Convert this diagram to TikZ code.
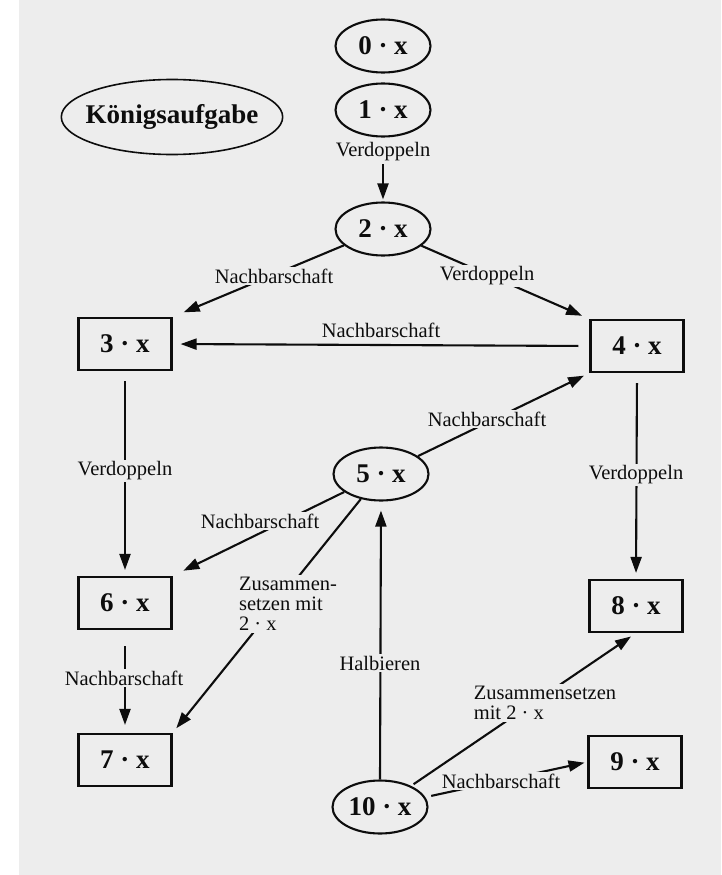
\documentclass[tikz,border=0pt]{standalone}
\usepackage{fontspec}
\setmainfont{Liberation Serif}
\usetikzlibrary{shapes.geometric,arrows.meta}
\definecolor{paper}{gray}{0.93}
\definecolor{ink}{gray}{0.05}
\begin{document}
\begin{tikzpicture}[x=1pt, y=-1pt, line width=2.1pt, draw=ink, text=ink,
  oval/.style={ellipse, draw, minimum width=95pt, minimum height=53pt, inner sep=0pt,
    font=\fontsize{27}{30}\selectfont\bfseries},
  boxnode/.style={rectangle, draw, minimum width=93pt, minimum height=52pt, inner sep=0pt,
    font=\fontsize{27}{30}\selectfont\bfseries},
  lbl/.style={font=\fontsize{20.5}{20}\selectfont, inner sep=2pt},
  cover/.style={lbl, fill=paper},
  arr/.style={-{Triangle[length=16pt,width=11pt]}}]
\useasboundingbox (0,0) rectangle (721,875);
% page
\fill[white] (0,0) rectangle (721,875);
\fill[paper] (19,0) rectangle (721,875);

% title
\node[oval, minimum width=221pt, minimum height=75pt, inner xsep=-8pt, line width=1.6pt] (koenig) at (172,117) {Königsaufgabe};

% multiples
\node[oval] (n0) at (383,46) {0 · x};
\node[oval] (n1) at (383,110) {1 · x};
\node[oval] (n2) at (383,229) {2 · x};
\node[boxnode] (n3) at (125,344) {3 · x};
\node[boxnode] (n4) at (637,346) {4 · x};
\node[oval] (n5) at (381,474) {5 · x};
\node[boxnode] (n6) at (125,603) {6 · x};
\node[boxnode] (n8) at (636,606) {8 · x};
\node[boxnode] (n7) at (125,760) {7 · x};
\node[boxnode] (n9) at (635,762) {9 · x};
\node[oval] (n10) at (380,807) {10 · x};

% doubling from 1 to 2
\node[lbl] (l12) at (383,152) {Verdoppeln};
\draw[arr, shorten >=2pt] (l12) -- (n2);

% connectors
\draw[arr, shorten >=12pt] (n2) -- (n3.north east);
\draw[arr, shorten >=8pt] (n2) -- (n4.north west);
\draw[arr, shorten <=11pt, shorten >=8pt] (n4.west) -- (n3.east);
\draw[arr, shorten <=10pt, shorten >=6pt] (n3.south) -- (n6.north);
\draw[arr, shorten <=10pt, shorten >=6pt] (n4.south) -- (n8.north);
\draw[arr, shorten >=6pt] (n5) -- (n4.south west);
\draw[arr, shorten >=12pt] (n5) -- (n6.north east);
\draw[arr, shorten >=6pt] (n5) -- (n7.north east);
\draw[arr, shorten <=16pt, shorten >=8pt] (n6.south) -- (n7.north);
\draw[arr, shorten >=9pt] (n10.north) -- (n5.south);
\draw[arr, shorten <=3pt, shorten >=6pt] (n10) -- (n8.south);
\draw[arr, shorten <=6pt, shorten >=3pt] (n10) -- (n9.west);

% connector labels (drawn over the lines)
\node[cover] (l23) at (274,276) {Nachbarschaft};
\node[cover] (l24) at (487,276) {Verdoppeln};
\node[lbl] (l43) at (381,330) {Nachbarschaft};
\node[cover] (l36) at (125,471) {Verdoppeln};
\node[cover] (l48) at (636,475) {Verdoppeln};
\node[cover] (l54) at (487,419) {Nachbarschaft};
\node[cover] (l56) at (260,521) {Nachbarschaft};
\node[cover, align=left] (l57) at (288,604) {Zusammen-\\setzen mit\\2 · x};
\node[cover] (l67) at (124,678) {Nachbarschaft};
\node[cover] (l105) at (380,663) {Halbieren};
\node[cover, align=left] (l108) at (545,703) {Zusammensetzen\\mit 2 · x};
\node[cover] (l109) at (501,781) {Nachbarschaft};
\end{tikzpicture}
\end{document}
